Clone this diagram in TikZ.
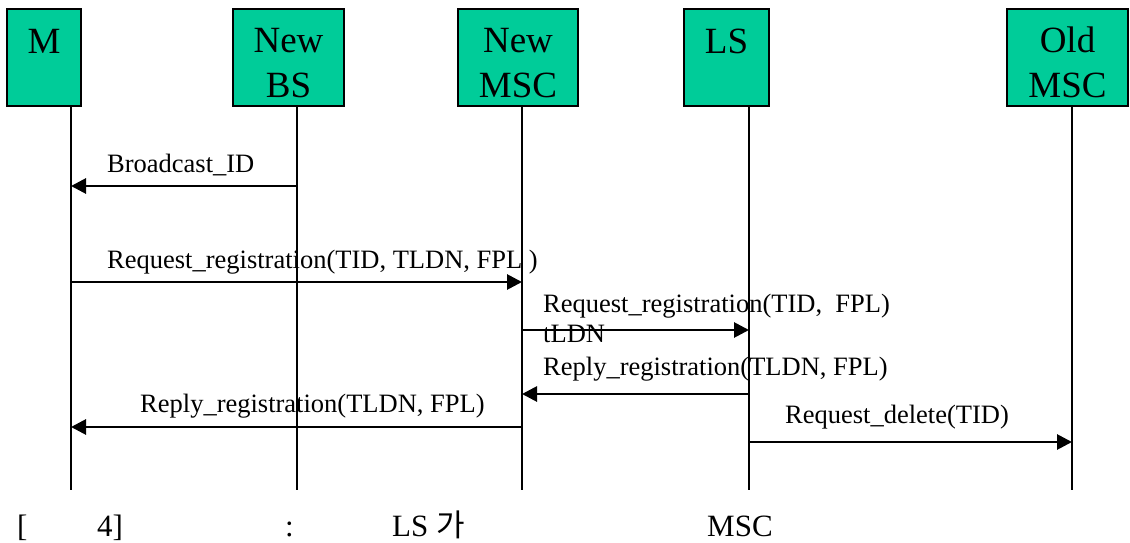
\documentclass[tikz,border=0pt]{standalone}
\usepackage{fontspec}
\setmainfont{Liberation Serif}
\newfontfamily\krfont{Noto Sans CJK KR}
\usetikzlibrary{arrows.meta}
\definecolor{unitgreen}{RGB}{0,204,153}

\begin{document}
\begin{tikzpicture}[x=1pt,y=-1pt,
  unit/.style={draw=black,line width=1.5pt,fill=unitgreen,minimum height=97pt,inner sep=0pt},
  unitname/.style={font=\fontsize{37}{44}\selectfont,align=center,anchor=base,inner sep=0pt},
  lifeline/.style={line width=1.6pt},
  msg/.style={line width=2.8pt,-{Triangle[length=15pt,width=15pt]}},
  msglabel/.style={font=\fontsize{26.5}{30}\selectfont,anchor=base west,inner sep=0pt},
  caption/.style={font=\fontsize{31}{34}\selectfont,anchor=base west,inner sep=0pt}]
\useasboundingbox (0,0) rectangle (1130,543);
% entities: name/centre/width/lifeline x/baseline of last line/text
\foreach \ent/\cx/\w/\lx/\by/\txt in {m/44/74/71/54/M,nbs/288.5/111/297/97/New\\BS,nmsc/518/120/522/97/New\\MSC,ls/726.5/85/749/54/LS,omsc/1067.5/121/1072/97/Old\\MSC}{
  \node[unit,minimum width=\w] (\ent) at (\cx,57.5) {};
  \node[unitname] (\ent-name) at (\cx,\by) {\txt};
  \coordinate (\ent-top) at (\lx,106);
  \coordinate (\ent-end) at (\lx,490);
  \draw[lifeline] (\ent-top) -- (\ent-end);
}
% message rows
\foreach \r/\y in {1/186,2/282,3/330,4/394,5/427,6/442}
  \coordinate (row\r) at (0,\y);
\draw[msg] (nbs-top |- row1) -- (m-top |- row1);
\node[msglabel] (bcast) at (107,172) {Broadcast\_ID};
\draw[msg] (m-top |- row2) -- (nmsc-top |- row2);
\node[msglabel] (reqnew) at (107,268) {Request\_registration(TID, TLDN, FPL )};
\draw[msg] (nmsc-top |- row3) -- (ls-top |- row3);
\node[msglabel] (reqls) at (543,312) {Request\_registration(TID, \ FPL)};
\node[msglabel] (tldn) at (543,342) {tLDN};
\draw[msg] (ls-top |- row4) -- (nmsc-top |- row4);
\node[msglabel] (replls) at (543,375) {Reply\_registration(TLDN, FPL)};
\draw[msg] (nmsc-top |- row5) -- (m-top |- row5);
\node[msglabel] (replm) at (140,412) {Reply\_registration(TLDN, FPL)};
\draw[msg] (ls-top |- row6) -- (omsc-top |- row6);
\node[msglabel] (del) at (785,423) {Request\_delete(TID)};
% caption
\node[caption] (capa) at (17,536) {[};
\node[caption] (capb) at (97,536) {4]};
\node[caption] (capc) at (285,536) {:};
\node[caption] (capd) at (392,536) {LS {\krfont 가}};
\node[caption] (cape) at (707,536) {MSC};
\end{tikzpicture}
\end{document}
